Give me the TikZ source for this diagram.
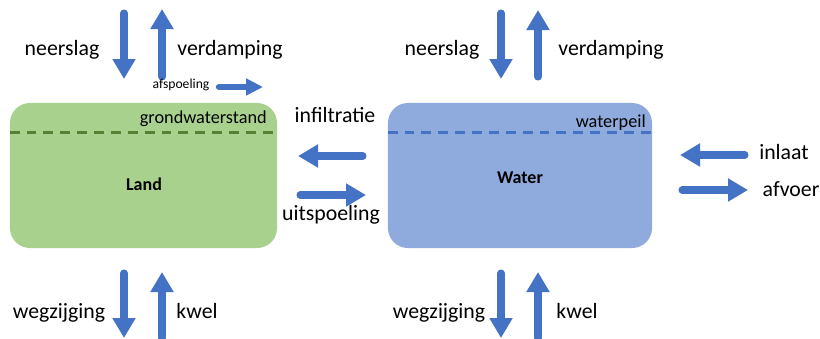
\documentclass[tikz,border=0pt]{standalone}
\usepackage{fontspec}
\setmainfont{Carlito}
\usetikzlibrary{positioning, arrows.meta}
\definecolor{landgreen}{HTML}{A9D18E}
\definecolor{darkgreen}{HTML}{548235}
\definecolor{waterblue}{HTML}{8FAADC}
\definecolor{flowblue}{HTML}{4472C4}

\begin{document}
\begin{tikzpicture}[x=0.025cm, y=-0.025cm,
    every box/.style={rectangle, rounded corners=0.5cm, minimum height=3.625cm, inner sep=0pt},
    box text/.style={font=\fontsize{12.8}{15}\selectfont\bfseries, anchor=base},
    flow/.style={line width=5pt, flowblue, line cap=round, -{Triangle[length=0.5cm, width=0.55cm]}},
    small flow/.style={line width=4.5pt, flowblue, line cap=round, -{Triangle[length=0.42cm, width=0.4cm]}},
    flowlabel/.style={font=\fontsize{15.5}{18}\selectfont, anchor=base},
    peil text/.style={font=\fontsize{13}{16}\selectfont, anchor=base east, inner sep=0pt},
    peil line/.style={dash pattern=on 7pt off 5pt, line width=2.2pt}]

    \useasboundingbox (0,0) rectangle (820,338);

    % Land and water boxes
    \node[every box, fill=landgreen, minimum width=6.675cm] (Land) at (143.5,175.5) {};
    \node[every box, fill=waterblue, minimum width=6.6cm] (Water) at (520,175.5) {};
    \node[box text] (Land-text) at (144,190) {Land};
    \node[box text] (Water-text) at (520,183) {Water};

    % Water levels
    \draw[peil line, darkgreen] ([yshift=-0.75cm]Land.north west) -- ([yshift=-0.75cm]Land.north east);
    \draw[peil line, flowblue] ([yshift=-0.75cm]Water.north west) -- ([yshift=-0.75cm]Water.north east);
    \node[peil text] (grondwaterstand) at (267,123) {grondwaterstand};
    \node[peil text] (waterpeil) at (646,127) {waterpeil};

    % Flows
    \foreach \n/\xa/\ya/\xb/\yb in {neerslag-L/124/13/124/79, verdamping-L/162/77/162/9,
        neerslag-W/501/13/501/79, verdamping-W/538/77/538/10,
        infiltratie/363/156/298/156, uitspoeling/300/195/366/195,
        inlaat/745/155/680/155, afvoer/682/190/748/190,
        wegzijging-L/124/273/124/338, kwel-L/162/338/162/272,
        wegzijging-W/501/273/501/338, kwel-W/538/338/538/272} {
        \coordinate (\n-a) at (\xa,\ya);
        \coordinate (\n-b) at (\xb,\yb);
        \draw[flow] (\n-a) -- (\n-b);
    }
    \coordinate (afspoeling-a) at (219,87);
    \coordinate (afspoeling-b) at (263,87);
    \draw[small flow] (afspoeling-a) -- (afspoeling-b);

    % Labels
    \node[flowlabel] (neerslag-L-text) at (62,55) {neerslag};
    \node[flowlabel] (verdamping-L-text) at (230,55) {verdamping};
    \node[flowlabel] (neerslag-W-text) at (442,55) {neerslag};
    \node[flowlabel] (verdamping-W-text) at (611,55) {verdamping};
    \node[font=\fontsize{9.7}{11}\selectfont, anchor=base] (afspoeling-text) at (181,88) {afspoeling};
    \node[flowlabel] (infiltratie-text) at (335,122) {infiltratie};
    \node[flowlabel] (uitspoeling-text) at (331,220) {uitspoeling};
    \node[flowlabel] (inlaat-text) at (784,159) {inlaat};
    \node[flowlabel] (afvoer-text) at (791,196) {afvoer};
    \node[flowlabel] (wegzijging-L-text) at (59,318) {wegzijging};
    \node[flowlabel] (kwel-L-text) at (197,318) {kwel};
    \node[flowlabel] (wegzijging-W-text) at (439,318) {wegzijging};
    \node[flowlabel] (kwel-W-text) at (577,318) {kwel};

\end{tikzpicture}
\end{document}
